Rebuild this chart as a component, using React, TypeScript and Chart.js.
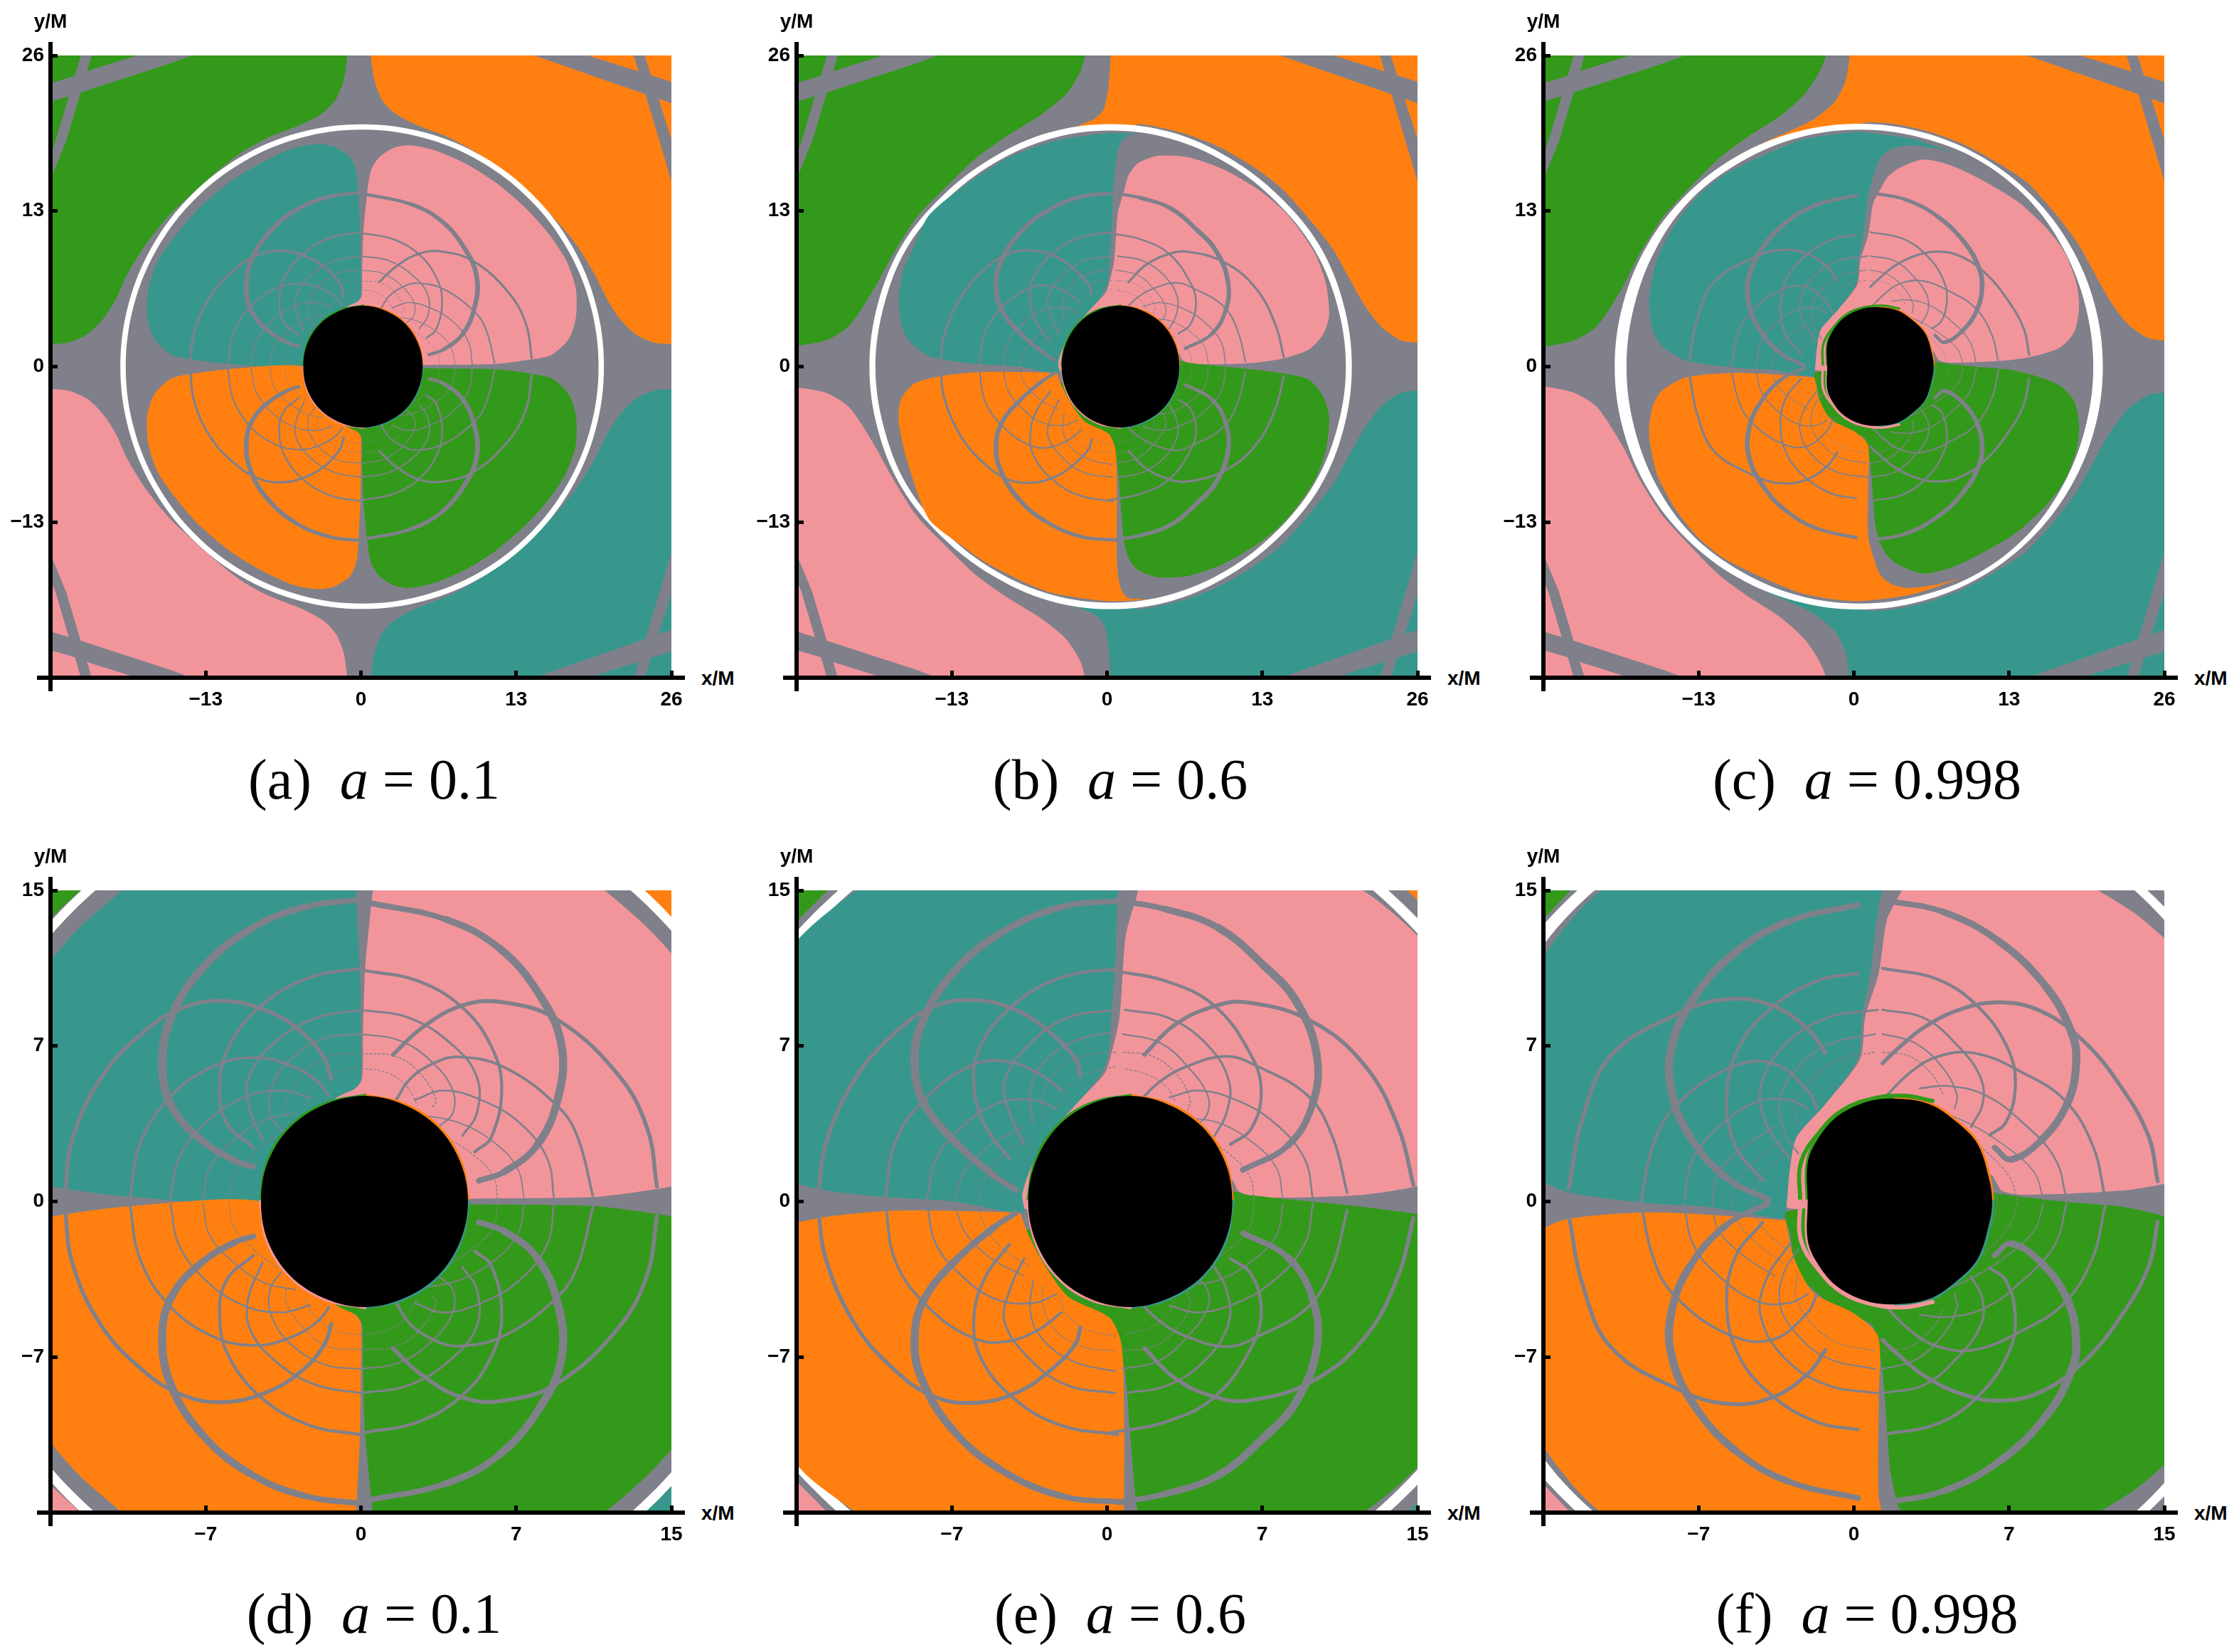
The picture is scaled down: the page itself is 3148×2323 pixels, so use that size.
import React, { useEffect, useRef } from "react";
import { Chart, registerables } from "chart.js";
Chart.register(...registerables);

type Pt = [number, number];

const GREEN = "#33991a", ORANGE = "#ff8010", PINK = "#f2959b", TEAL = "#38978c", GRAY = "#80808b";
const SWAP: Record<string, string> = { [GREEN]: PINK, [PINK]: GREEN, [ORANGE]: TEAL, [TEAL]: ORANGE };

const ticks26 = [-26, -13, 0, 13, 26];
const labels26 = ["", "−13", "0", "13", "26"];
const ticks15 = [-15, -7.5, 0, 7.5, 15];
const labels15 = ["", "−7", "0", "7", "15"];

// Gray lens bands in the two upper corners (the lower corners are their reflection)
const stripeThickL: Pt[] = [[-27, 23.5], [-25.8, 23.75], [-23.75, 24.35], [-22.7, 24.76], [-18.75, 26], [-17, 26.6], [-12.5, 26.6], [-14.2, 26], [-15.9, 25.36], [-23.5, 22.9], [-25.8, 22.2], [-27, 21.9]];
const stripeThinL: Pt[] = [[-23.3, 26.5], [-22.4, 26.5], [-24.7, 18.8], [-26.5, 14.5], [-26.5, 16.5], [-25.6, 18.8]];
const stripeThickR: Pt[] = [[14.5, 26], [13, 26.5], [20.5, 26.5], [19, 26], [26, 23.8], [27, 23.5], [27, 21.7], [26, 22]];
const stripeThinR: Pt[] = [[22.7, 26.5], [23.6, 26.5], [26, 19], [26.5, 17.5], [26.5, 14], [26, 15.5]];

// ---------- a = 0.1 ----------
const greenExtA: Pt[] = [[-1.15, 28], [-1.15, 26], [-1.45, 23.9], [-2.1, 22.35], [-3.1, 21.26], [-4.9, 20.26], [-7.7, 19.17], [-10, 17.9], [-12.3, 16.1], [-14.2, 14.4], [-16.1, 12.6], [-18, 10.25], [-19.6, 7.67], [-20.5, 5.68], [-21.5, 4.1], [-22.9, 2.7], [-24.5, 2], [-25.95, 1.87], [-28, 1.7], [-28, 28]];
const orangeExtA: Pt[] = [[0.84, 28], [0.84, 25.9], [1.14, 23.9], [1.74, 22.35], [2.73, 21.26], [4.5, 20.26], [7.3, 19.17], [9.67, 17.9], [12.05, 16.1], [14, 14.4], [16, 12.6], [18, 10.25], [19.6, 7.67], [20.6, 5.68], [21.6, 4.1], [23, 2.7], [24.55, 2], [25.95, 1.87], [28, 1.7], [28, 28]];
const ringOuterA: Pt[] = [[20.35, 0], [19.66, 5.24], [17.64, 10.13], [14.42, 14.32], [10.23, 17.54], [5.34, 19.56], [0.1, 20.25], [-5.14, 19.56], [-10.03, 17.54], [-14.22, 14.32], [-17.44, 10.13], [-19.46, 5.24], [-20.15, 0]];
const ringInnerA: Pt[] = [[19.9, 0], [19.22, 5.13], [17.25, 9.9], [14.1, 14], [10, 17.15], [5.22, 19.12], [0.1, 19.8], [-5.02, 19.12], [-9.8, 17.15], [-13.9, 14], [-17.05, 9.9], [-19.02, 5.13], [-19.7, 0]];
const tealA: Pt[] = [[-0.2, 14.3], [-0.36, 16.2], [-0.9, 17.5], [-2.3, 18.4], [-3.7, 18.6], [-5.8, 18.2], [-8.4, 17], [-11, 15.4], [-13.6, 13.2], [-15.5, 11], [-17, 8.85], [-17.8, 6.5], [-17.9, 4.1], [-17.3, 2.3], [-15.9, 1], [-14.3, 0.62], [-11.1, 0.22], [-4.8, 0], [-3, 2], [-1.3, 4.9], [-0.27, 5.46], [0, 5.9], [0, 8.1], [-0.05, 11.2]];
const pinkA: Pt[] = [[0.55, 14.8], [0.84, 16.4], [1.54, 17.5], [2.73, 18.28], [4.1, 18.5], [6.1, 18.1], [8.7, 17], [11.26, 15.4], [13.84, 13.2], [15.8, 11], [17.2, 8.85], [18, 6.5], [18, 4.1], [17.4, 2.3], [16, 1], [14.4, 0.62], [11.26, 0.22], [5.2, 0.13], [1, 0], [-2, 2], [-1.3, 4.9], [-0.27, 5.46], [0.05, 5.9], [0.1, 8.1], [0.2, 11.2]];
const shadowA: Pt[] = [[5.17, 0], [4.8, 1.9], [3.7, 3.6], [2, 4.7], [0.17, 5.09], [-1.7, 4.7], [-3.4, 3.6], [-4.5, 1.9], [-4.83, 0]];
const leftLoopsA: Pt[][] = [
  [[0, 14.56], [-2.7, 14.2], [-5.4, 13.1], [-7.7, 11.2], [-9.2, 8.8], [-9.6, 6.4], [-9.1, 4.5], [-7.7, 2.95], [-6.1, 1.97], [-5.2, 1.68]],
  [[-14.3, 0.33], [-13.95, 2.95], [-12.6, 5.9], [-10.7, 8], [-8.7, 9.3], [-6.6, 9.67], [-4.5, 9.17], [-2.9, 8.2], [-1.77, 6.9], [-1.43, 5.9]],
  [[0, 11.24], [-2.46, 10.8], [-4.76, 9.5], [-6.37, 7.5], [-6.83, 5.57], [-6.5, 3.8], [-5.2, 2.6]],
  [[-11.15, 0.22], [-10.7, 2.7], [-9.36, 4.9], [-7.3, 6.44], [-5.2, 6.94], [-3.38, 6.55], [-2.1, 5.79], [-1.54, 5.1]],
  [[0, 9.24], [-2.2, 8.84], [-4.07, 7.75], [-5.33, 6.22], [-5.45, 4.7], [-4.76, 2.95]],
  [[-9.2, 0.15], [-8.8, 2.07], [-7.5, 3.8], [-5.7, 5], [-3.84, 5.35], [-2.46, 5]],
  [[0, 8.08], [-1.77, 7.86], [-3.38, 6.88], [-4.3, 5.57], [-4.4, 4.26], [-3.84, 3.38]],
  [[-7.63, 0.1], [-7.3, 1.64], [-6.14, 2.95], [-4.64, 3.93], [-3.15, 4.26]],
  [[0, 7.14], [-1.54, 7], [-2.7, 6.2], [-3.6, 4.9], [-3.6, 4.15]],
  [[-6.37, 0.1], [-6.14, 1.2], [-5.2, 2.3], [-4.07, 3.17]],
  [[0, 6.44], [-1.3, 6.2], [-2.2, 5.57], [-2.7, 4.7]],
];
const rightLoopsA: Pt[][] = [
  [[0.4, 14.4], [4.1, 13.6], [6.7, 12.2], [8.7, 9.85], [9.7, 7.47], [9.5, 4.9], [8.5, 2.7], [6.9, 1.42], [5.7, 1]],
  [[14.3, 0.72], [13.84, 3.5], [12.45, 6.08], [9.5, 8.76], [6.9, 9.6], [4.9, 9.45], [2.93, 8.36], [1.54, 7.07]],
  [[0.15, 11.14], [2.73, 10.64], [4.9, 9.35], [6.3, 7.47], [6.8, 5.48], [6.3, 3.1], [5.5, 2.4]],
  [[11.2, 0.3], [10.47, 3.1], [9.5, 4.6], [6.9, 6.48], [4.7, 6.97], [3.5, 6.66], [2.37, 5.9], [1.7, 4.9]],
  [[0, 9.24], [2.37, 8.84], [4.44, 7.53], [5.6, 6], [5.6, 4.26], [4.9, 3.17]],
  [[9.33, 0.1], [9, 2.07], [7.66, 3.8], [5.8, 4.9], [4, 5.35], [2.6, 4.9]],
  [[0, 8.08], [1.9, 7.75], [3.5, 6.66], [4.44, 5.35], [4.44, 4.26], [3.75, 3.6]],
  [[7.9, 0.1], [7.54, 1.64], [6.3, 2.95], [4.67, 3.82], [3.06, 4.15]],
  [[0, 7.14], [1.68, 7], [2.83, 6.2], [3.63, 4.9], [3.4, 4.5]],
  [[6.6, 0.1], [6.4, 1.2], [5.36, 2.3], [4, 3.17]],
  [[0, 6.44], [1.3, 6.2], [2.2, 5.57], [2.7, 4.7]],
];

// ---------- a = 0.6 ----------
const greenExtB: Pt[] = [[-1.86, 28], [-1.86, 26], [-2.3, 24.5], [-3.5, 22.7], [-5.6, 21], [-8.5, 19.2], [-11, 17.4], [-13.9, 14.6], [-16, 12.4], [-18, 9.25], [-19.3, 6.9], [-20.5, 4.9], [-21.7, 3.3], [-23.5, 2.2], [-25.9, 1.74], [-28, 1.5], [-28, 28]];
const orangeExtB: Pt[] = [[0.3, 28], [0.3, 26], [0.12, 23.4], [-0.28, 21.5], [-1.07, 20.7], [-2.25, 20.2], [-2.5, 19.9], [1.5, 20], [2.8, 20.27], [6.16, 19.57], [9.14, 18.48], [12.1, 16.8], [14.5, 15], [16.7, 12.6], [18.9, 9.85], [20.45, 7.07], [21.6, 5.08], [23, 3.3], [24.6, 2.2], [26, 2], [28, 1.8], [28, 28]];
const ringOuterB: Pt[] = [[20.5, 0], [19.8, 5.23], [17.8, 10.1], [14.45, 14.2], [10.3, 17.4], [5.5, 19.55], [0.3, 20.27], [-4.9, 19.55], [-9.7, 17.4], [-13.85, 14.2], [-17.2, 10.1], [-19.2, 5.23], [-19.9, 0]];
const ringInnerB: Pt[] = [[20, 0], [19.3, 5.05], [17.35, 9.8], [14.1, 13.85], [10.05, 17], [5.3, 19.05], [0.3, 19.73], [-4.7, 19.05], [-9.45, 17], [-13.55, 13.85], [-16.8, 9.85], [-18.7, 5.05], [-19.4, 0]];
const tealB: Pt[] = [[3, 19.47], [0, 19.5], [-4.2, 18.9], [-8.2, 17.5], [-12.25, 14.9], [-14.95, 12.6], [-16.2, 10], [-17.1, 7.9], [-17.45, 5.2], [-16.9, 2.6], [-14.9, 0.87], [-11.7, 0.3], [-7.4, 0], [-4.04, -0.55], [-4.1, 0.33], [-3.58, 1.86], [-2.67, 3.38], [-1.3, 4.9], [-0.27, 6.2], [0.07, 7.1], [0.21, 8.86], [0.41, 11.6], [0.5, 14.4], [0.8, 17.6], [1.2, 18.8], [2, 19.4]];
const pinkB: Pt[] = [[1.4, 14.6], [1.8, 16], [2.6, 17], [4.2, 17.6], [6.76, 17.5], [9.7, 16.5], [12.8, 14.7], [15.1, 12.7], [17.3, 9.65], [18.3, 7.07], [18.6, 4.3], [18.1, 2.7], [16.9, 1.42], [14.9, 0.72], [12.1, 0.3], [7.35, 0.2], [6.36, 0.5], [5.96, 1.1], [2, 0], [-4.2, -0.3], [-3.58, 1.86], [-2.67, 3.38], [-1.3, 4.9], [-0.1, 6.2], [0.2, 7.1], [0.6, 8.86], [0.9, 12.8]];
const orangeB: Pt[] = [[-4.2, -0.53], [-7.4, -0.45], [-10.5, -0.45], [-13.7, -0.76], [-16.1, -1.4], [-17.25, -2.7], [-17.45, -4.6], [-16.7, -8], [-14.95, -12.7], [-12.25, -14.9], [-9.75, -16.6], [-5, -18.8], [0, -19.6], [3.3, -19.45], [1.7, -19.3], [1.1, -18.4], [0.83, -16.4], [0.83, -11], [0.7, -6.9], [0.12, -5.6], [-1.86, -4.6], [-3, -3.1], [-3.8, -1.6]];
const greenB: Pt[] = [[1.4, -14.6], [1.8, -16], [2.6, -17], [4.2, -17.6], [6.76, -17.5], [9.7, -16.5], [12.8, -14.7], [15.1, -12.7], [17.3, -9.65], [18.3, -7.07], [18.6, -4.3], [18.1, -2.5], [16.9, -1.1], [14.9, -0.6], [12.1, -0.23], [6.76, 0.33], [6, 0.5], [2, 0], [-3.9, -1.4], [-3.2, -3.1], [-1.86, -4.9], [0.12, -5.9], [0.6, -6.9], [0.9, -8.5], [1.1, -11]];
const shadowB: Pt[] = [[6.05, 0], [5.7, 1.9], [4.6, 3.6], [2.9, 4.7], [1.1, 5.09], [-0.8, 4.7], [-2.4, 3.6], [-3.45, 1.9], [-3.81, 0]];
const leftLoopsB: Pt[][] = [
  [[0.75, 14.5], [-2.2, 14.2], [-5.2, 12.9], [-7.46, 11], [-8.94, 8.6], [-9.3, 6.66], [-8.83, 4.7], [-7.2, 2.73], [-5.4, 1.2], [-4.4, 0.55]],
  [[-13.96, 0.33], [-13.6, 2.73], [-12.25, 5.8], [-10.4, 8], [-8.37, 9.4], [-6.3, 9.7], [-4.27, 9.17], [-2.67, 8.08], [-1.53, 6.88], [-1.3, 6.1]],
  [[0.52, 11.24], [-2.2, 10.8], [-4.5, 9.5], [-6.1, 7.53], [-6.43, 5.57], [-5.86, 3.6], [-4.72, 2.07]],
  [[-10.7, 0.2], [-10.2, 2.95], [-8.6, 5.13], [-6.55, 6.55], [-4.95, 6.77], [-3.35, 6.2], [-2.2, 5.35]],
  [[0.41, 9.24], [-1.98, 8.84], [-3.8, 7.53], [-4.95, 5.8], [-4.7, 4.26], [-4, 2.73]],
  [[-8.7, 0.15], [-8.26, 2.07], [-7, 3.6], [-5.4, 4.7], [-3.58, 4.9], [-2.44, 4.47]],
  [[0.41, 8.19], [-1.53, 7.75], [-3.1, 6.66], [-3.7, 5.35], [-3.58, 3.82]],
  [[-7.35, 0.1], [-6.9, 1.42], [-5.63, 2.73], [-4, 3.6]],
  [[0.41, 7.2], [-1.2, 7], [-2.5, 6.2], [-3.1, 5], [-3.1, 4.1]],
  [[-6.2, 0.1], [-5.9, 1.2], [-5, 2.3], [-3.8, 3.1]],
  [[0.4, 6.5], [-0.9, 6.2], [-1.9, 5.5], [-2.3, 4.6]],
];
const rightLoopsB: Pt[][] = [
  [[0.6, 14.5], [2.8, 14.1], [5.37, 13.2], [7.55, 11.4], [9.14, 9.65], [10.13, 7.07], [9.93, 4.7], [8.74, 2.7], [6.56, 1.52]],
  [[14.8, 0.8], [14.1, 3.5], [12.5, 6.5], [9.93, 8.66], [6.76, 9.6], [4.97, 9.35], [3.2, 8.46], [1.8, 7.07]],
  [[0.21, 11.14], [2.8, 10.64], [5.17, 9.45], [6.95, 7.07], [7.45, 5.28], [6.96, 3.5], [5.96, 2.75]],
  [[11.6, 0.42], [10.9, 3.1], [9.7, 5.1], [7.15, 6.57], [5.77, 7], [3.95, 6.55], [2.58, 5.8], [1.44, 4.7]],
  [[0.87, 9.24], [3, 8.84], [4.86, 7.53], [5.89, 5.8], [5.77, 4.26], [5.2, 3.17]],
  [[9.95, 0.1], [9.54, 2.07], [8.05, 3.82], [6.23, 4.9], [4.4, 5.35], [3.03, 5.02]],
  [[0.75, 8.08], [2.58, 7.64], [3.95, 6.44], [4.86, 5.13], [4.86, 4.26], [4.29, 3.6]],
  [[8.5, 0.1], [8.17, 1.64], [6.9, 2.95], [5.3, 3.82], [3.6, 4.04]],
  [[0.8, 7.2], [2.2, 7], [3.3, 6.2], [4, 5], [3.9, 4.4]],
  [[7.1, 0.1], [6.9, 1.2], [5.9, 2.3], [4.5, 3.2]],
  [[0.9, 6.4], [2, 6.1], [2.9, 5.5], [3.3, 4.8]],
];

// ---------- a = 0.998 ----------
const greenExtC: Pt[] = [[-2.37, 28], [-2.37, 25.92], [-2.96, 24.5], [-4.15, 22.75], [-6.14, 20.96], [-8.92, 19.17], [-11.3, 17.4], [-14.07, 14.6], [-16.06, 12.4], [-18.04, 9.25], [-19.24, 6.87], [-20.42, 4.9], [-21.6, 3.3], [-23.4, 2.2], [-25.9, 1.67], [-28, 1.5], [-28, 28]];
const orangeExtC: Pt[] = [[-0.38, 28], [-0.38, 25.9], [-0.68, 23.94], [-1.58, 22.15], [-3.36, 20.66], [-5.15, 19.77], [-7.72, 18.58], [-7, 18.2], [0.8, 20.36], [3.2, 20.3], [6.16, 19.67], [9.14, 18.6], [12.1, 17], [14.5, 15.4], [16.7, 13], [18.66, 10.44], [20.45, 7.27], [21.6, 5.28], [23, 3.5], [24.6, 2.4], [25.9, 2.17], [28, 2], [28, 28]];
const ringOuterC: Pt[] = [[20.85, 0], [20.15, 5.25], [18.1, 10.15], [14.86, 14.35], [10.63, 17.58], [5.7, 19.6], [0.41, 20.3], [-4.88, 19.6], [-9.81, 17.58], [-14.04, 14.35], [-17.3, 10.15], [-19.33, 5.25], [-20.03, 0]];
const ringInnerC: Pt[] = [[20.05, 0], [19.4, 5.05], [17.55, 9.85], [14.55, 14.05], [10.35, 17.3], [5.55, 19.15], [0.5, 19.8], [-4.55, 19.15], [-9.3, 17.2], [-13.55, 14.05], [-16.55, 9.9], [-18.4, 5.05], [-19.04, 0]];
const tealC: Pt[] = [[8.74, 17.75], [5, 19], [2, 19.45], [0.2, 19.6], [-4.15, 19], [-7.7, 17.6], [-10.9, 16], [-13.1, 14.2], [-14.87, 12], [-16.46, 9.05], [-17.15, 5.68], [-16.85, 3.1], [-16.06, 1.7], [-14.07, 0.52], [-10.1, -0.07], [-7, -0.27], [-3.5, -0.83], [-3.3, -0.6], [-3.1, 1.5], [-2.77, 3.1], [-1.38, 4.7], [0.2, 6.87], [0.4, 8.9], [0.8, 11], [1.2, 14.2], [1.6, 15.8], [2.2, 17.4], [3.2, 18.2], [4.6, 18.5], [7, 18.2]];
const pinkC: Pt[] = [[2.1, 14.6], [2.8, 15.8], [3.8, 16.6], [5.8, 17.3], [8.15, 16.8], [10.9, 15.5], [13.7, 13.8], [16.1, 11.6], [17.7, 9.45], [18.66, 6.87], [18.86, 4.9], [18.46, 2.9], [17.27, 1.6], [15.3, 0.92], [12.9, 0.52], [8.15, 0.32], [7.15, 0.52], [6.56, 1.3], [2, 0], [-3.2, -0.3], [-3.1, 1.5], [-2.77, 3.1], [-1.38, 4.7], [0.3, 6.87], [0.55, 8.9], [1.2, 11], [1.6, 13.6]];
const orangeC: Pt[] = [[-3.3, -0.9], [-7, -0.64], [-10.2, -0.53], [-14.07, -0.9], [-16.06, -2], [-16.85, -3.3], [-17.15, -5.68], [-16.46, -9.05], [-14.87, -12], [-13.1, -14.2], [-10.9, -16], [-7.7, -17.6], [-4.15, -19], [0.2, -19.6], [5, -19], [8.74, -17.75], [7, -18.2], [4.6, -18.5], [3.2, -18.2], [2.2, -17.4], [1.6, -15.8], [1.2, -14.2], [1.2, -9.5], [1.17, -6.5], [0, -5.4], [-1.95, -4.4], [-2.9, -2.7]];
const greenC: Pt[] = [[2.1, -14.6], [2.8, -15.8], [3.8, -16.6], [5.8, -17.3], [8.15, -16.8], [10.9, -15.5], [13.7, -13.8], [16.1, -11.6], [17.7, -9.45], [18.66, -6.87], [18.86, -4.9], [18.46, -2.9], [17.27, -1.6], [15.3, -0.8], [13.1, -0.27], [10.1, 0], [6.76, 0.42], [6.45, 0.68], [2, 0], [-3.3, -0.5], [-3.1, -1.5], [-2.66, -3.5], [-0.8, -5.2], [0.86, -5.95], [1.25, -7.3], [1.5, -9.5], [1.76, -13]];
const shadowC: Pt[] = [[6.68, 0], [6.56, 0.98], [6, 2.73], [4.98, 3.82], [3.63, 4.7], [1.83, 4.96], [0.47, 4.76], [-0.88, 4.04], [-1.78, 2.95], [-2.23, 1.86], [-2.23, 0]];
const rimC: Pt[] = [[-2.6, 0], [-2.55, 1.9], [-1.65, 3.35], [-0.55, 4.4], [0.9, 4.95], [2.4, 5.1], [3.8, 4.85]];
const leftLoopsC: Pt[][] = [
  [[0.2, 14.3], [-3.16, 13.5], [-5.74, 12], [-7.7, 9.85], [-8.8, 7.47], [-8.8, 5.28], [-7.9, 3.1], [-6.14, 1.12], [-4.15, 0.1]],
  [[-13.78, 0.62], [-13.08, 4.1], [-11.7, 7.07], [-8.5, 9.05], [-6.14, 9.75], [-3.96, 9.45], [-2.17, 8.26], [-1.38, 7.17]],
  [[0.2, 11], [-1.77, 10.64], [-3.96, 9.35], [-5.54, 7.47], [-6.14, 5.08], [-5.74, 2.7], [-4.4, 1]],
  [[-10.3, 0], [-9.7, 2.7], [-8.7, 4.5], [-6.14, 6.38], [-3.96, 6.67], [-2.23, 5.35], [-1.78, 4.47]],
  [[1.15, 9.24], [-1.33, 8.84], [-3.36, 7.53], [-4.49, 5.57], [-4.26, 3.82], [-3.13, 2.07]],
  [[-8.2, 0.1], [-7.76, 2.07], [-6.52, 3.6], [-4.7, 4.8], [-3.13, 4.9], [-2.23, 4.47]],
  [[1.04, 8.08], [-1.33, 7.53], [-2.9, 6.22], [-3.58, 4.9], [-3.36, 3.38], [-2.68, 2.3]],
  [[-6.86, 0], [-6.52, 1.42], [-5.17, 2.73], [-3.8, 3.6]],
  [[1, 7.2], [-0.8, 6.8], [-2.1, 5.8], [-2.8, 4.6], [-2.7, 3.5]],
  [[-5.9, 0], [-5.6, 1], [-4.6, 2.1], [-3.4, 3]],
  [[-4.9, 0], [-4.7, 0.8], [-3.9, 1.8], [-3.1, 2.4]],
];
const rightLoopsC: Pt[][] = [
  [[1.6, 14.5], [4.3, 13.97], [7, 12.55], [9.27, 10.37], [10.5, 8.19], [10.74, 6.66], [10.3, 4.7], [9.05, 2.95], [7.58, 2.03], [6.8, 2.6]],
  [[14.68, 0.98], [14.23, 3.17], [12.88, 5.57], [11.08, 7.75], [9.05, 9.17], [7.13, 9.6], [5.2, 9.28], [3.4, 8.4], [2.05, 7.3], [1.38, 6.66]],
  [[1.38, 11.24], [4.08, 10.7], [6.11, 9.28], [7.47, 7.3], [7.8, 5.57], [7.35, 3.82], [6.56, 3.2]],
  [[12.14, 0.2], [11.53, 2.73], [10.17, 4.9], [8.14, 6.22], [5.89, 7.14], [4.08, 7], [2.73, 6.22], [1.38, 4.9]],
  [[1.38, 9.24], [3.4, 8.84], [5, 7.53], [6.11, 6], [6.22, 4.7], [5.66, 3.6]],
  [[10.28, 0.1], [9.72, 2.07], [8.14, 3.82], [6.34, 5.13], [4.53, 5.57], [3.18, 5.46]],
  [[1.38, 8.08], [2.95, 7.64], [4.3, 6.44], [4.98, 5.13], [4.87, 4.48]],
  [[9.16, 0.1], [8.7, 1.42], [7.24, 2.73], [5.44, 3.82], [3.74, 4.48]],
  [[1.4, 7.2], [2.7, 7], [3.8, 6.1], [4.3, 5.2]],
  [[7.9, 0.1], [7.5, 1.2], [6.4, 2.4], [5, 3.5]],
  [[6.9, 0.1], [6.7, 1], [5.9, 2], [4.9, 2.8]],
];

const mirror = (p: Pt[]): Pt[] => p.map(([x, y]) => [x, -y] as Pt);
const closeUpper = (p: Pt[]): Pt[] => [...p, ...mirror(p).reverse().slice(1, -1)];
const loopWidths = [0.36, 0.19, 0.15, 0.13, 0.11, 0.09, 0.075, 0.06, 0.05, 0.045, 0.04];

const SPINS: Record<string, any> = {
  a: { greenExt: greenExtA, orangeExt: orangeExtA, ringOuter: ringOuterA, ringInner: ringInnerA, teal: tealA, pink: pinkA, orange: mirror(tealA), green: mirror(pinkA), shadow: shadowA, left: leftLoopsA, right: rightLoopsA, rim: [] },
  b: { greenExt: greenExtB, orangeExt: orangeExtB, ringOuter: ringOuterB, ringInner: ringInnerB, teal: tealB, pink: pinkB, orange: orangeB, green: greenB, shadow: shadowB, left: leftLoopsB, right: rightLoopsB, rim: [] },
  c: { greenExt: greenExtC, orangeExt: orangeExtC, ringOuter: ringOuterC, ringInner: ringInnerC, teal: tealC, pink: pinkC, orange: orangeC, green: greenC, shadow: shadowC, left: leftLoopsC, right: rightLoopsC, rim: rimC },
};

const PLOT_W = 873, PLOT_H = 875;
const COLS = [71, 1120, 2170];
const ROWS = [78, 1252];
const CAP_X = [526, 1575, 2625];
const CAP_Y = [1096, 2269];
const PANELS = [
  { tag: "(a)", val: "0.1", spin: "a", col: 0, row: 0, lim: 26, t: ticks26, l: labels26 },
  { tag: "(b)", val: "0.6", spin: "b", col: 1, row: 0, lim: 26, t: ticks26, l: labels26 },
  { tag: "(c)", val: "0.998", spin: "c", col: 2, row: 0, lim: 26, t: ticks26, l: labels26 },
  { tag: "(d)", val: "0.1", spin: "a", col: 0, row: 1, lim: 15, t: ticks15, l: labels15 },
  { tag: "(e)", val: "0.6", spin: "b", col: 1, row: 1, lim: 15, t: ticks15, l: labels15 },
  { tag: "(f)", val: "0.998", spin: "c", col: 2, row: 1, lim: 15, t: ticks15, l: labels15 },
];
const PAD = { left: 70, top: 70, right: 40, bottom: 50 };

const xy = (p: Pt[]) => p.map(([x, y]) => ({ x, y }));

function buildDatasets(spin: any, lim: number) {
  const pxPerM = PLOT_W / (2 * lim);
  const base = { type: "scatter", showLine: true, pointRadius: 0, pointHoverRadius: 0, clip: 0, capBezierPoints: false };
  const poly = (p: Pt[], color: string, tension = 0.25, wrap = false) => ({
    ...base, data: xy(wrap ? [...p, p[0], p[1], p[2]] : [...p, p[0]]), fill: "shape", backgroundColor: color, borderWidth: 0, borderColor: color, tension,
  });
  const stroke = (p: Pt[], color: string, w: number, extra: any = {}) => ({
    ...base, data: xy(p), fill: false, borderColor: color, backgroundColor: color, borderWidth: Math.max(0.8, w * pxPerM), tension: 0.4, borderCapStyle: "round", ...extra,
  });
  const list: any[] = [];
  list.push(poly([[-30, -30], [30, -30], [30, 30], [-30, 30]], GRAY, 0));
  list.push(poly(spin.greenExt, GREEN), poly(mirror(spin.greenExt), SWAP[GREEN]));
  list.push(poly(spin.orangeExt, ORANGE), poly(mirror(spin.orangeExt), SWAP[ORANGE]));
  for (const s of [stripeThickL, stripeThinL, stripeThickR, stripeThinR]) {
    list.push(poly(s, GRAY, 0), poly(mirror(s), GRAY, 0));
  }
  list.push(poly(closeUpper(spin.ringOuter), "#ffffff", 0.35, true));
  list.push(poly(closeUpper(spin.ringInner), GRAY, 0.35, true));
  list.push(poly(spin.pink, PINK), poly(spin.green, GREEN), poly(spin.teal, TEAL), poly(spin.orange, ORANGE));
  const addLoops = (loops: Pt[][]) => loops.forEach((c: Pt[], idx: number) => {
    const w = loopWidths[idx];
    const extra: any = {};
    if (idx === 0) {
      const last = c.length - 1;
      extra.segment = { borderWidth: (ctx: any) => Math.max(1, w * pxPerM * (0.68 + 0.42 * Math.sin((Math.PI * (ctx.p0DataIndex + 0.5)) / last))) };
    }
    if (idx >= 8) extra.borderDash = [3, 3];
    list.push(stroke(c, GRAY, w, extra), stroke(mirror(c), GRAY, w, extra));
  });
  addLoops(spin.left);
  addLoops(spin.right);
  const half = Math.floor(spin.shadow.length / 2);
  const sr = spin.shadow.slice(0, half + 1);
  const sl = spin.shadow.slice(half);
  list.push(stroke(sr, ORANGE, 0.2), stroke(mirror(sr), TEAL, 0.2), stroke(sl, GREEN, 0.2), stroke(mirror(sl), PINK, 0.2));
  if (spin.rim.length) {
    list.push(stroke(spin.rim, GREEN, 0.2), stroke(mirror(spin.rim), PINK, 0.2));
  }
  list.push(poly(closeUpper(spin.shadow), "#000000", 0.35, true));
  const L = lim * 1.0435;
  const axis = { clip: false, tension: 0, borderCapStyle: "butt" };
  list.push(stroke([[-L, -lim], [L, -lim]], "#000000", 6 / pxPerM, axis));
  list.push(stroke([[-lim, -L], [-lim, L]], "#000000", 6 / pxPerM, axis));
  return list.reverse();
}

const tickFont = { family: "'Liberation Sans', Arial, sans-serif", size: 28, weight: "bold" as const };

function Panel({ p }: { p: (typeof PANELS)[number] }) {
  const ref = useRef<HTMLCanvasElement>(null);
  useEffect(() => {
    const scale = (pad: number, horizontal: boolean) => ({
      type: "linear",
      min: -p.lim,
      max: p.lim,
      position: horizontal ? "bottom" : "left",
      afterBuildTicks: (s: any) => { s.ticks = p.t.map((value) => ({ value })); },
      afterFit: (s: any) => { if (horizontal) s.height = PAD.bottom; else s.width = PAD.left; },
      border: { display: false },
      grid: { drawOnChartArea: false, tickLength: -10, tickWidth: 5, tickColor: "#000000", z: 1 },
      ticks: {
        autoSkip: false, maxRotation: 0, padding: pad, color: "#000000", font: tickFont, z: 1,
        callback: (v: number) => p.l[p.t.indexOf(v)],
      },
    });
    const chart = new Chart(ref.current as HTMLCanvasElement, {
      type: "scatter",
      data: { datasets: buildDatasets(SPINS[p.spin], p.lim) as any },
      options: {
        animation: false,
        responsive: false,
        events: [],
        layout: { padding: { left: 0, top: PAD.top, right: PAD.right, bottom: 0 } },
        plugins: { legend: { display: false }, tooltip: { enabled: false } },
        scales: { x: scale(24, true) as any, y: scale(19, false) as any },
      },
    });
    return () => chart.destroy();
  }, [p]);
  const left = COLS[p.col], top = ROWS[p.row];
  const lab: React.CSSProperties = { position: "absolute", font: "bold 28px 'Liberation Sans', Arial, sans-serif", color: "#000", whiteSpace: "nowrap", lineHeight: 1 };
  return (
    <>
      <canvas
        ref={ref}
        width={PLOT_W + PAD.left + PAD.right}
        height={PLOT_H + PAD.top + PAD.bottom}
        style={{ position: "absolute", left: left - PAD.left, top: top - PAD.top, width: PLOT_W + PAD.left + PAD.right, height: PLOT_H + PAD.top + PAD.bottom }}
      />
      <span style={{ ...lab, left, top: top - 48, transform: "translate(-50%,-50%)" }}>y/M</span>
      <span style={{ ...lab, left: left + PLOT_W + 42, top: top + PLOT_H + 1, transform: "translateY(-50%)" }}>x/M</span>
      <span style={{ position: "absolute", left: CAP_X[p.col], top: CAP_Y[p.row], transform: "translate(-50%,-50%)", font: "80px 'Liberation Serif', serif", color: "#000", whiteSpace: "pre" }}>
        {p.tag + "  "}<i>a</i>{" = " + p.val}
      </span>
    </>
  );
}

export default function App() {
  return (
    <div style={{ position: "absolute", left: 0, top: 0, width: 3148, height: 2323, background: "#fff", overflow: "hidden" }}>
      {PANELS.map((p) => <Panel key={p.tag} p={p} />)}
    </div>
  );
}
